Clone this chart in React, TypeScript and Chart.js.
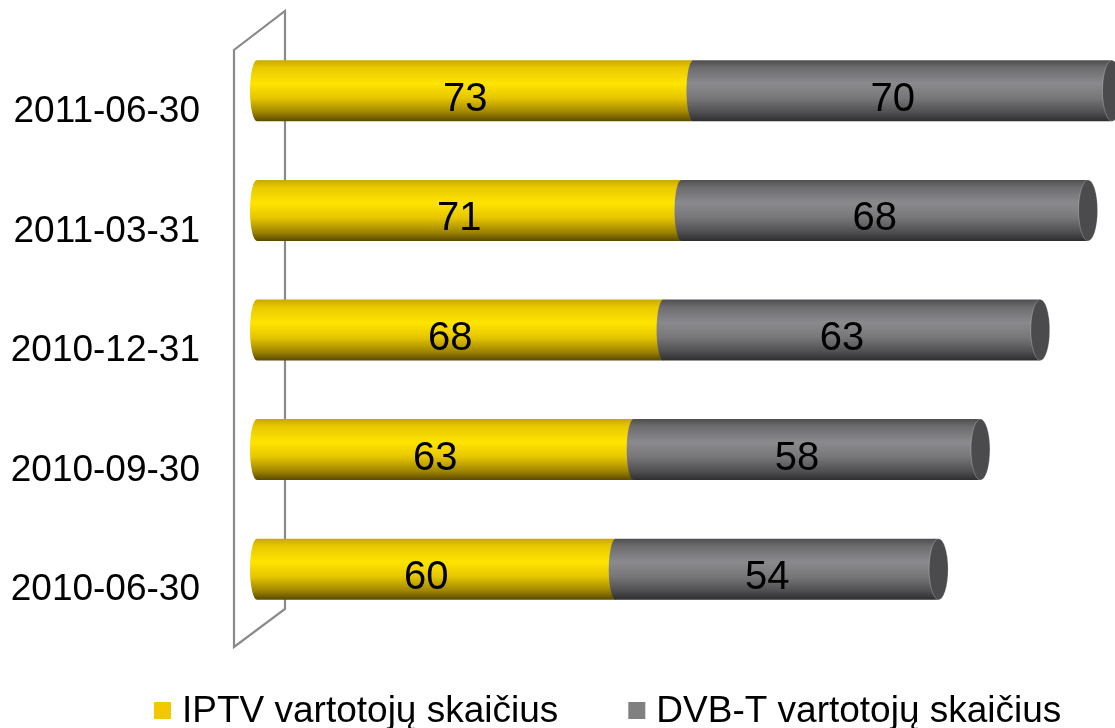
import React, { useEffect, useRef } from "react";
import { Chart, registerables } from "chart.js";

Chart.register(...registerables);

const categories = ["2011-06-30", "2011-03-31", "2010-12-31", "2010-09-30", "2010-06-30"];
const iptvValues = [73, 71, 68, 63, 60];
const dvbtValues = [70, 68, 63, 58, 54];
const seriesLabels = ["IPTV vartotojų skaičius", "DVB-T vartotojų skaičius"];
const legendColors = ["#f2c800", "#808080"];
const xMax = 143;

const FONT = "'Liberation Sans', Arial, sans-serif";

const gradStops: Array<Array<[number, string]>> = [
  [
    [0, "#c9a800"],
    [0.12, "#e8c800"],
    [0.38, "#ffe400"],
    [0.62, "#e6c600"],
    [0.85, "#a08600"],
    [1, "#5a4a00"],
  ],
  [
    [0, "#4e4e50"],
    [0.12, "#6c6c6f"],
    [0.38, "#8a8a8e"],
    [0.62, "#77777a"],
    [0.85, "#505052"],
    [1, "#2e2e30"],
  ],
];

const cylinderPlugin = {
  id: "cylinders",
  beforeDatasetsDraw(chart: any) {
    const ctx = chart.ctx as CanvasRenderingContext2D;
    const ca = chart.chartArea;
    const fl = ca.left - 23;
    const bl = ca.left + 28;
    ctx.save();
    ctx.strokeStyle = "#8a8a8a";
    ctx.lineWidth = 2.2;
    ctx.beginPath();
    ctx.moveTo(fl, ca.bottom + 18);
    ctx.lineTo(fl, ca.top + 19);
    ctx.lineTo(bl, ca.top - 20);
    ctx.lineTo(bl, ca.bottom - 20);
    ctx.closePath();
    ctx.stroke();
    ctx.restore();
  },
  afterDatasetsDraw(chart: any) {
    const ctx = chart.ctx as CanvasRenderingContext2D;
    const nd = chart.data.datasets.length;
    ctx.save();
    const rx = 7;
    for (let i = 0; i < nd; i++) {
      const meta = chart.getDatasetMeta(i);
      meta.data.forEach((el: any) => {
        const p = el.getProps(["x", "y", "base", "height"], true);
        const left = Math.min(p.x, p.base);
        const right = Math.max(p.x, p.base);
        const top = p.y - p.height / 2;
        const bot = p.y + p.height / 2;
        const g = ctx.createLinearGradient(0, top, 0, bot);
        gradStops[i].forEach(([o, c]) => g.addColorStop(o, c));
        ctx.fillStyle = g;
        ctx.beginPath();
        ctx.moveTo(right, top);
        ctx.lineTo(left, top);
        ctx.ellipse(left, p.y, rx, p.height / 2, 0, -Math.PI / 2, Math.PI / 2, true);
        ctx.lineTo(right, bot);
        ctx.closePath();
        ctx.fill();
        if (i === nd - 1) {
          ctx.fillStyle = "#4b4b4e";
          ctx.beginPath();
          ctx.ellipse(right, p.y, 9.5, p.height / 2, 0, 0, Math.PI * 2);
          ctx.fill();
          ctx.strokeStyle = "rgba(255,255,255,0.25)";
          ctx.lineWidth = 1;
          ctx.stroke();
        }
      });
    }
    // value labels
    ctx.fillStyle = "#000";
    ctx.font = `40px ${FONT}`;
    ctx.textAlign = "center";
    ctx.textBaseline = "middle";
    for (let i = 0; i < nd; i++) {
      const meta = chart.getDatasetMeta(i);
      const vals = chart.data.datasets[i].data;
      meta.data.forEach((el: any, j: number) => {
        const p = el.getProps(["x", "y", "base"], true);
        const cx = (p.x + p.base) / 2 - 10;
        ctx.fillText(String(vals[j]), cx, p.y + 9);
      });
    }
    ctx.restore();
  },
  afterDraw(chart: any) {
    const ctx = chart.ctx as CanvasRenderingContext2D;
    ctx.save();
    ctx.font = `37px ${FONT}`;
    ctx.textAlign = "left";
    ctx.textBaseline = "alphabetic";
    const boxSize = 17;
    let x = 154;
    const yBase = 722;
    chart.data.datasets.forEach((ds: any, i: number) => {
      ctx.fillStyle = legendColors[i];
      ctx.fillRect(x, 702, boxSize, boxSize);
      x += boxSize + 11;
      ctx.fillStyle = "#000";
      ctx.fillText(ds.label, x, yBase);
      x += ctx.measureText(ds.label).width + 70;
    });
    ctx.restore();
  },
};

export default function App() {
  const canvasRef = useRef<HTMLCanvasElement | null>(null);

  useEffect(() => {
    document.body.style.margin = "0";
    const canvas = canvasRef.current;
    if (!canvas) return;
    const chart = new Chart(canvas, {
      type: "bar",
      data: {
        labels: categories,
        datasets: [
          { label: seriesLabels[0], data: iptvValues, backgroundColor: "rgba(0,0,0,0)", borderWidth: 0 },
          { label: seriesLabels[1], data: dvbtValues, backgroundColor: "rgba(0,0,0,0)", borderWidth: 0 },
        ],
      },
      options: {
        indexAxis: "y",
        responsive: false,
        animation: false,
        devicePixelRatio: 1,
        datasets: { bar: { categoryPercentage: 1, barPercentage: 0.51 } },
        layout: { padding: { left: 0, right: 3, top: 31, bottom: 99 } },
        plugins: { legend: { display: false }, tooltip: { enabled: false } },
        scales: {
          x: { stacked: true, min: 0, max: xMax, display: false },
          y: {
            stacked: true,
            grid: { display: false, drawTicks: false },
            border: { display: false },
            afterFit: (scale: any) => {
              scale.width = 257;
              scale.paddingTop = 0;
              scale.paddingBottom = 0;
            },
            ticks: {
              color: "#000",
              font: { family: FONT, size: 37 },
              padding: 57,
              labelOffset: 21,
            },
          },
        },
      } as any,
      plugins: [cylinderPlugin],
    });
    return () => chart.destroy();
  }, []);

  return (
    <div style={{ width: 1115, height: 728, background: "#fff" }}>
      <canvas ref={canvasRef} width={1115} height={728} style={{ width: 1115, height: 728, display: "block" }} />
    </div>
  );
}
